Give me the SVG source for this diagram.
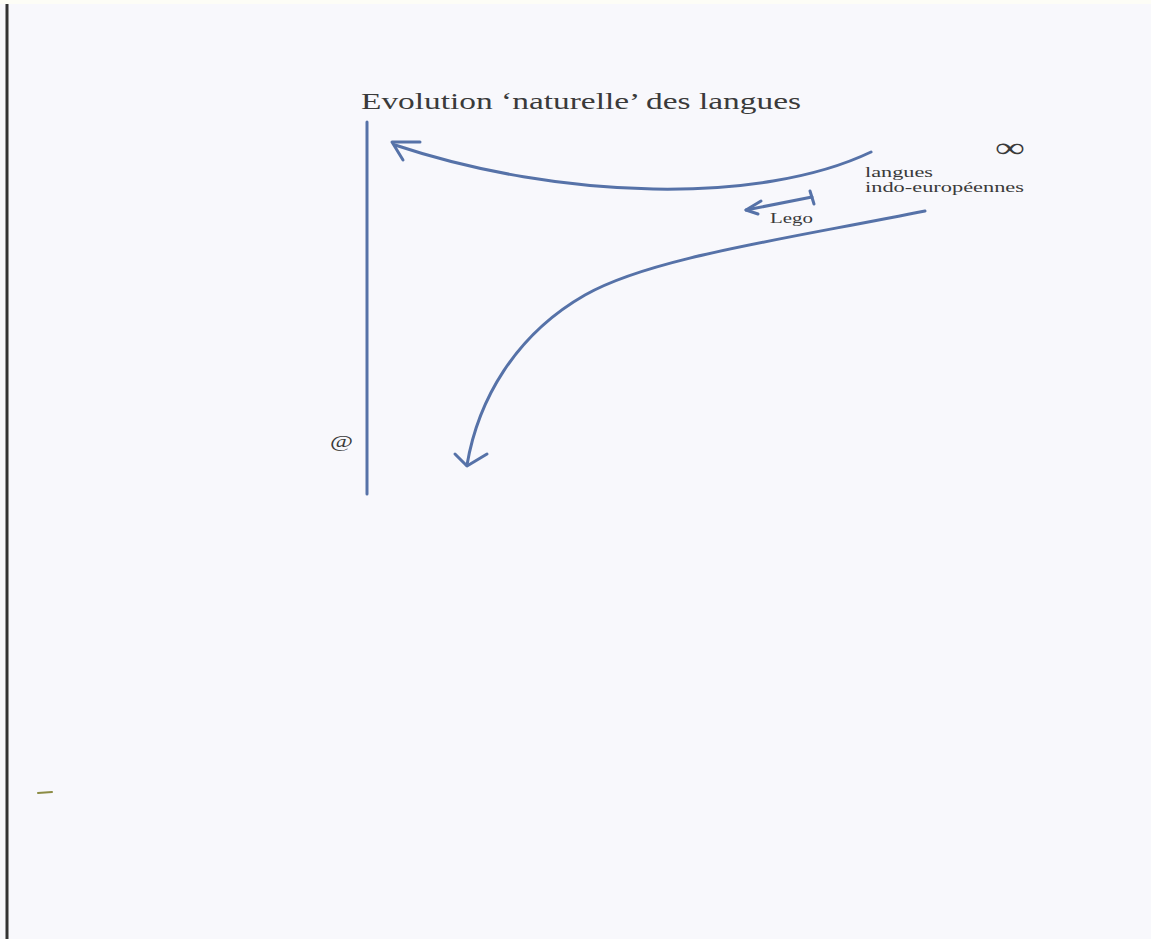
<svg xmlns="http://www.w3.org/2000/svg" width="1151" height="939" viewBox="0 0 1151 939">
  <style>
    .ln { fill: none; stroke: #5672a8; stroke-width: 3; stroke-linecap: round; stroke-linejoin: round; }
    .tx { font-family: "Liberation Serif", "Times New Roman", serif; fill: #3a3a3a; }
  </style>
  <rect x="0" y="0" width="1151" height="939" fill="#f8f8fc"/>
  <rect x="0" y="0" width="1151" height="4" fill="#fdfdf6"/>
  <line x1="7" y1="4" x2="7" y2="939" stroke="#333" stroke-width="3"/>
  <line x1="38" y1="793" x2="52" y2="792" stroke="#8c8c44" stroke-width="2" stroke-linecap="round"/>

  <g id="title">
    <text class="tx" x="361" y="109" font-size="23" textLength="440" lengthAdjust="spacingAndGlyphs">Evolution ‘naturelle’ des langues</text>
  </g>
  <g id="infinity">
    <text class="tx" x="995" y="157" font-size="28" textLength="30" lengthAdjust="spacingAndGlyphs">∞</text>
  </g>
  <g id="langues">
    <text class="tx" x="865" y="177" font-size="15" textLength="68" lengthAdjust="spacingAndGlyphs">langues</text>
    <text class="tx" x="865" y="192" font-size="15" textLength="159" lengthAdjust="spacingAndGlyphs">indo-européennes</text>
  </g>
  <g id="lego">
    <text class="tx" x="770" y="223" font-size="15" textLength="43" lengthAdjust="spacingAndGlyphs">Lego</text>
  </g>
  <g id="at">
    <text class="tx" x="330" y="447" font-size="16" textLength="23" lengthAdjust="spacingAndGlyphs">@</text>
  </g>

  <g id="connectors">
    <line class="ln" x1="367" y1="122" x2="367" y2="494"/>
    <path class="ln" d="M871,152 C760,205 560,200 395,145"/>
    <path class="ln" d="M420,142 L392,142 L403,160"/>
    <path class="ln" d="M925,211 C780,240 650,258 585,295 C515,335 478,400 467,465"/>
    <path class="ln" d="M455,454 L467,466 L487,454"/>
    <path class="ln" d="M812,197 L746,210"/>
    <path class="ln" d="M810,191 L814,204"/>
    <path class="ln" d="M761,201 L746,210 L758,214"/>
  </g>
</svg>
